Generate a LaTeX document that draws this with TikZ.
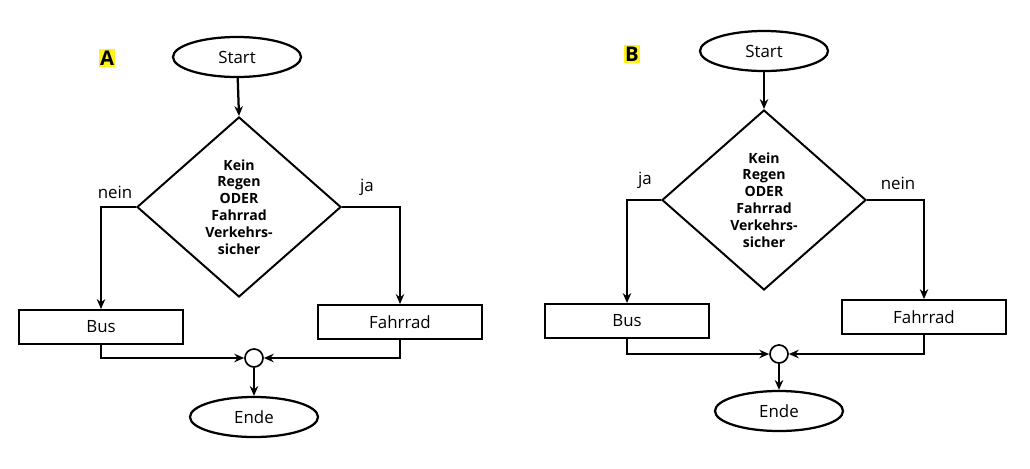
\documentclass[tikz,border=0pt]{standalone}
\usepackage{fontspec}
\setmainfont{Open Sans}
\usetikzlibrary{shapes.geometric,arrows.meta}
\begin{document}
\begin{tikzpicture}[x=0.025cm,y=-0.025cm]
      \tikzset{term/.style={draw,ellipse,line width=1.6pt,minimum width=3.2cm,minimum height=1cm,inner sep=0pt,font=\large},
               box/.style={draw,rectangle,line width=1.4pt,minimum width=4.1cm,minimum height=0.85cm,inner sep=0pt,font=\large},
               dec/.style={draw,diamond,line width=1.4pt,minimum width=5.1cm,minimum height=4.5cm,inner sep=0pt,align=center,font=\bfseries,text width=2cm},
               merge/.style={draw,circle,line width=1.2pt,minimum size=0.45cm,inner sep=0pt},
               flow/.style={line width=1.6pt,-{Stealth[length=7pt,width=6pt]}},
               lab/.style={font=\large,inner sep=1pt},
               tagmark/.style={fill=yellow!90!white,font=\Large\bfseries,inner sep=1pt}}
      \useasboundingbox (0,0) rectangle (1030,468);
      % A
      \node[tagmark] (tagA) at (107,58) {A};
      \node[term] (startA) at (237,57) {Start};
      \node[dec] (decA) at (239,207) {Kein\\Regen\\ODER\\Fahrrad\\Verkehrs-\\sicher};
      \node[box] (busA) at (101,327) {Bus};
      \node[box] (radA) at (400,322) {Fahrrad};
      \node[merge] (jA) at (254,358) {};
      \node[term] (endeA) at (254,417) {Ende};
      \draw[flow] (startA) -- (decA.north);
      \draw[flow] (decA.west) -| (busA.north);
      \draw[flow] (decA.east) -| (radA.north);
      \draw[flow] (busA.south) |- (jA.west);
      \draw[flow] (radA.south) |- (jA.east);
      \draw[flow] (jA) -- (endeA);
      \node[lab] at (115,192) {nein};
      \node[lab] at (367,187) {ja};
      % B
      \node[tagmark] (tagB) at (632,54) {B};
      \node[term] (startB) at (764,51) {Start};
      \node[dec] (decB) at (764,200) {Kein\\Regen\\ODER\\Fahrrad\\Verkehrs-\\sicher};
      \node[box] (busB) at (627,321) {Bus};
      \node[box] (radB) at (924,317) {Fahrrad};
      \node[merge] (jB) at (779,354) {};
      \node[term] (endeB) at (779,411) {Ende};
      \draw[flow] (startB) -- (decB.north);
      \draw[flow] (decB.west) -| (busB.north);
      \draw[flow] (decB.east) -| (radB.north);
      \draw[flow] (busB.south) |- (jB.west);
      \draw[flow] (radB.south) |- (jB.east);
      \draw[flow] (jB) -- (endeB);
      \node[lab] at (645,180) {ja};
      \node[lab] at (898,183) {nein};
\end{tikzpicture}
\end{document}
